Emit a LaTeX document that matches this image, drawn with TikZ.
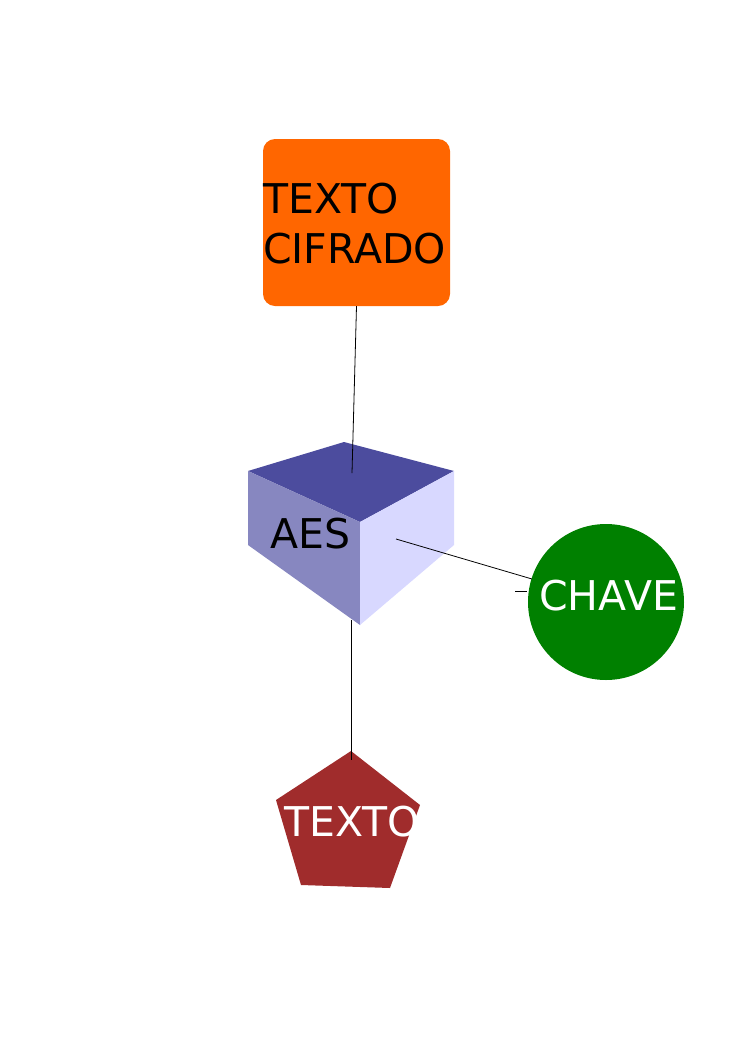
\documentclass[tikz,border=0pt]{standalone}
\usepackage{fontspec}
\setmainfont{DejaVu Sans}
\usepackage{tikz}
\usepackage{xcolor}

\definecolor{cifradoOrange}{HTML}{FF6600}
\definecolor{chaveGreen}{HTML}{008000}
\definecolor{textoRed}{HTML}{A02C2C}
\definecolor{cubeTop}{HTML}{4C4C9E}
\definecolor{cubeLeft}{HTML}{8787C0}
\definecolor{cubeRight}{HTML}{D8D8FF}

\tikzset{
  big/.style={inner sep=0pt, anchor=base west, font=\fontsize{41}{49}\selectfont},
  link/.style={line width=0.8pt, black}
}

\begin{document}
\begin{tikzpicture}[x=1pt, y=-1pt]
  \useasboundingbox (0,0) rectangle (745,1053);
  % texto cifrado
  \node [fill=cifradoOrange, rounded corners=12pt, minimum width=187pt,
         minimum height=167pt, inner sep=0pt] (cifrado) at (356.5,222.5) {};
  \node [big] (l1) at (263,213) {TEXTO};
  \node [big] (l2) at (263,263) {CIFRADO};
  % AES cube
  \fill [cubeTop] (248,471)--(344,442)--(454,471)--(360,522)--cycle;
  \fill [cubeLeft] (248,471)--(360,522)--(360,625)--(248,545)--cycle;
  \fill [cubeRight] (360,522)--(454,471)--(454,545)--(360,625)--cycle;
  \node [big] (aes) at (270,548) {AES};
  \coordinate (aesTop) at (352,473);
  \coordinate (aesBottom) at (351,620);
  \coordinate (aesRight) at (396,539);
  % chave
  \node [circle, fill=chaveGreen, minimum size=156pt, inner sep=0pt] (chave) at (606,602) {};
  \node [big, white] (chaveText) at (539,610) {CHAVE};
  \coordinate (stubA) at (515,591);
  \coordinate (stubB) at (527,591);
  \coordinate (chaveIn) at (532,579);
  % texto
  \fill [textoRed] (351,751)--(420,805)--(390,888)--(301,885)--(276,800)--cycle;
  \node [big, white] (texto) at (284,836) {TEXTO};
  \coordinate (textoTop) at (351,760);
  % links
  \draw [link] (cifrado.south) -- (aesTop);
  \draw [link] (aesBottom) -- (textoTop);
  \draw [link] (aesRight) -- (chaveIn);
  \draw [link] (stubA) -- (stubB);
\end{tikzpicture}
\end{document}
